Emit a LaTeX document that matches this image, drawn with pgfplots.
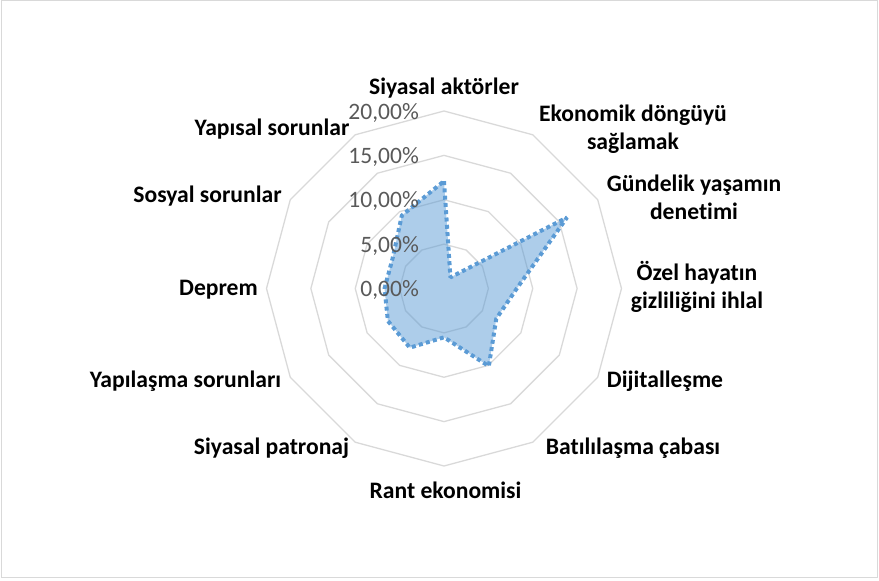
\documentclass[border=0pt]{standalone}
\usepackage{fontspec}
\setmainfont{Carlito}[Ligatures={NoCommon}]
\usepackage{pgfplots}
\pgfplotsset{compat=1.18}
\usepgfplotslibrary{polar}
\definecolor{gridc}{HTML}{D9D9D9}
\definecolor{serc}{HTML}{5B9BD5}
\definecolor{tickc}{HTML}{595959}
\begin{document}
\begin{tikzpicture}
\begin{polaraxis}[
  hide axis, scale only axis, width=355bp, height=355bp,
  ymin=0, ymax=20, clip=false,
]
\addplot[gridc, line width=1.3bp, no marks] coordinates {(90,5) (60,5) (30,5) (0,5) (330,5) (300,5) (270,5) (240,5) (210,5) (180,5) (150,5) (120,5) (90,5)};
\addplot[gridc, line width=1.3bp, no marks] coordinates {(90,10) (60,10) (30,10) (0,10) (330,10) (300,10) (270,10) (240,10) (210,10) (180,10) (150,10) (120,10) (90,10)};
\addplot[gridc, line width=1.3bp, no marks] coordinates {(90,15) (60,15) (30,15) (0,15) (330,15) (300,15) (270,15) (240,15) (210,15) (180,15) (150,15) (120,15) (90,15)};
\addplot[gridc, line width=1.3bp, no marks] coordinates {(90,20) (60,20) (30,20) (0,20) (330,20) (300,20) (270,20) (240,20) (210,20) (180,20) (150,20) (120,20) (90,20)};
% data (angle, percent)
\addplot[draw=none, fill=serc, fill opacity=0.5, no marks] coordinates {(90,12.1) (60,1.45) (30,16.0) (0,8.2) (330,6.8) (300,10.1) (270,5.5) (240,7.7) (210,7.3) (180,6.7) (150,6.7) (120,9.5) (90,12.1)};
\addplot[serc, line width=4bp, dash pattern=on 4bp off 3.3bp, no marks, line join=bevel] coordinates {(90,12.1) (60,1.45) (30,16.0) (0,8.2) (330,6.8) (300,10.1) (270,5.5) (240,7.7) (210,7.3) (180,6.7) (150,6.7) (120,9.5) (90,12.1)};
\coordinate (O) at (axis cs:0,0);
\end{polaraxis}
\draw[gridc, line width=1bp] ([shift={(-442.5bp,-288.5bp)}]O) rectangle ([shift={(433.5bp,288bp)}]O);
\useasboundingbox ([shift={(-444bp,-292.5bp)}]O) rectangle ([shift={(435bp,288.5bp)}]O);
\begin{scope}[every node/.style={text=tickc, anchor=east, font=\fontsize{23.6}{28}\selectfont, inner sep=0pt}]
\node at ([shift={(-25bp,-1.5bp)}]O) {0,00\%};
\node at ([shift={(-25bp,42.9bp)}]O) {5,00\%};
\node at ([shift={(-25bp,87.2bp)}]O) {10,00\%};
\node at ([shift={(-25bp,131.6bp)}]O) {15,00\%};
\node at ([shift={(-25bp,176bp)}]O) {20,00\%};
\end{scope}
\begin{scope}[every node/.style={align=center, font=\bfseries\fontsize{23.7}{28}\selectfont, inner sep=0pt}]
\node at ([shift={(0bp,200bp)}]O) {Siyasal aktörler};
\node at ([shift={(189bp,159.5bp)}]O) {Ekonomik döngüyü\\sağlamak};
\node at ([shift={(250bp,91.5bp)}]O) {Gündelik yaşamın\\denetimi};
\node at ([shift={(253bp,1.5bp)}]O) {Özel hayatın\\gizliliğini ihlal};
\node at ([shift={(221bp,-92.5bp)}]O) {Dijitalleşme};
\node at ([shift={(189bp,-159.5bp)}]O) {Batılılaşma çabası};
\node at ([shift={(1.5bp,-201.5bp)}]O) {Rant ekonomisi};
\node at ([shift={(-172.5bp,-159.5bp)}]O) {Siyasal patronaj};
\node at ([shift={(-258.5bp,-93bp)}]O) {Yapılaşma sorunları};
\node at ([shift={(-225.5bp,-1bp)}]O) {Deprem};
\node at ([shift={(-236.5bp,92.5bp)}]O) {Sosyal sorunlar};
\node at ([shift={(-172bp,159bp)}]O) {Yapısal sorunlar};
\end{scope}
\end{tikzpicture}
\end{document}
